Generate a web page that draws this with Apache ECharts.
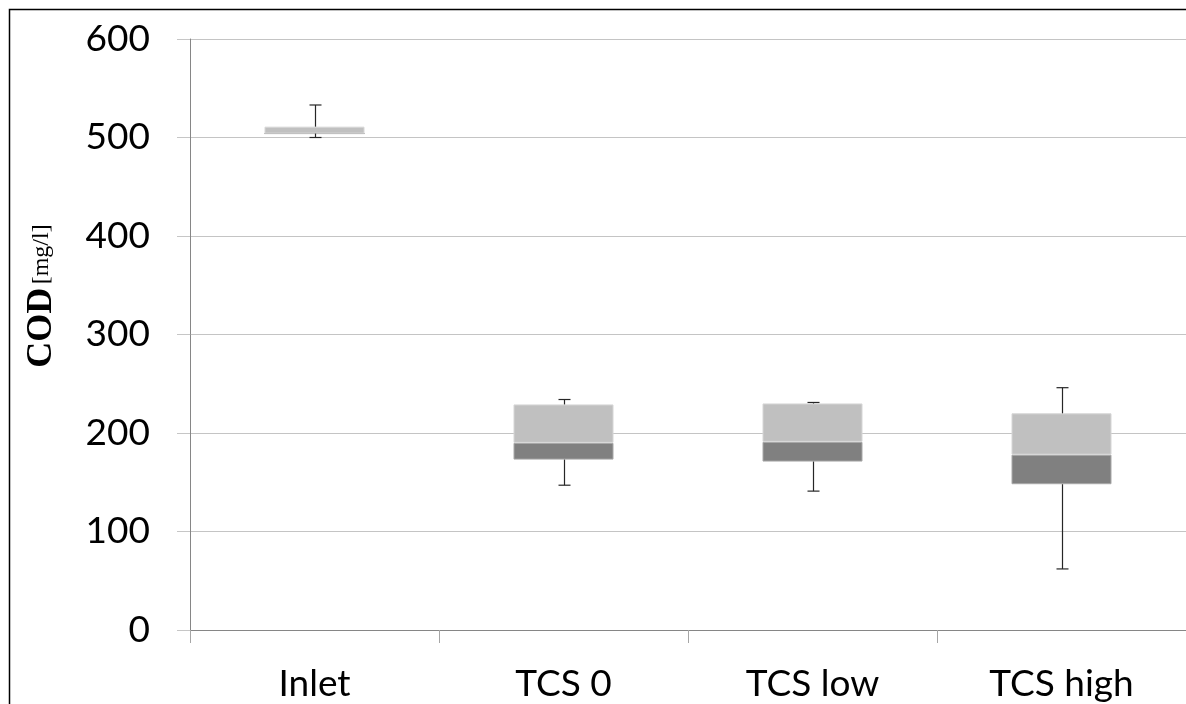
<!DOCTYPE html>
<html>
<head>
<meta charset="utf-8">
<script src="https://cdn.jsdelivr.net/npm/echarts@6/dist/echarts.min.js"></script>
<style>
  html, body { margin: 0; padding: 0; background: #fff; }
  #chart { width: 1186px; height: 704px; }
</style>
</head>
<body>
<div id="chart"></div>
<script>
// COD concentrations [mg/l] per sampling point, as box-and-whisker summaries
const categories = ['Inlet', 'TCS 0', 'TCS low', 'TCS high'];
const minVals    = [500, 147, 141, 62];
const q1Vals     = [504, 173, 171, 148];
const medianVals = [504, 190, 191, 178];
const q3Vals     = [511, 229, 230, 220];
const maxVals    = [533, 234, 231, 246];
const yTicks     = { min: 0, max: 600, step: 100 };

// Stacked segments: hidden base up to Q1, dark Q1..median, light median..Q3
const baseSeg  = q1Vals.slice();
const lowerSeg = medianVals.map((m, i) => m - q1Vals[i]);
const upperSeg = q3Vals.map((q, i) => q - medianVals[i]);
const whiskerData = categories.map((c, i) => [i, minVals[i], q1Vals[i], q3Vals[i], maxVals[i]]);

const chart = echarts.init(document.getElementById('chart'), null, { renderer: 'canvas' });

const labelFont = 'Lato, "Open Sans", sans-serif';

chart.setOption({
  animation: false,
  backgroundColor: '#ffffff',
  grid: { left: 190, top: 39, width: 1000, height: 591, containLabel: false },
  xAxis: {
    type: 'category',
    data: categories,
    boundaryGap: true,
    axisLine: { show: true, lineStyle: { color: '#868686', width: 1 } },
    axisTick: { show: true, alignWithLabel: false, length: 13, lineStyle: { color: '#a6a6a6' } },
    axisLabel: { color: '#000', fontFamily: labelFont, fontSize: 37, margin: 36 },
    splitLine: { show: false }
  },
  yAxis: {
    type: 'value',
    min: yTicks.min,
    max: yTicks.max,
    interval: yTicks.step,
    axisLine: { show: true, lineStyle: { color: '#868686', width: 1 } },
    axisTick: { show: true, length: 13, lineStyle: { color: '#c6c6c6' } },
    axisLabel: { color: '#000', fontFamily: labelFont, fontSize: 37, margin: 40 },
    splitLine: { show: true, lineStyle: { color: '#c4c4c4', width: 1 } }
  },
  series: [
    {
      type: 'bar', stack: 'box', data: baseSeg, barWidth: 100,
      itemStyle: { color: 'rgba(0,0,0,0)' }, silent: true
    },
    {
      type: 'bar', stack: 'box', data: lowerSeg, barWidth: 100,
      itemStyle: { color: '#808080', borderColor: '#a8a8a8', borderWidth: 1 }
    },
    {
      type: 'bar', stack: 'box', data: upperSeg, barWidth: 100,
      itemStyle: { color: '#c0c0c0', borderColor: '#d6d6d6', borderWidth: 1 }
    },
    {
      type: 'custom',
      data: whiskerData,
      z: 3,
      renderItem: function (params, api) {
        const idx = api.value(0);
        const pMin = api.coord([idx, api.value(1)]);
        const pQ1  = api.coord([idx, api.value(2)]);
        const pQ3  = api.coord([idx, api.value(3)]);
        const pMax = api.coord([idx, api.value(4)]);
        const x = Math.round(pMin[0]) + 0.5;
        const cap = 6;
        const st = { stroke: '#262626', lineWidth: 1.2 };
        return {
          type: 'group',
          children: [
            { type: 'line', shape: { x1: x, y1: pMax[1], x2: x, y2: pQ3[1] }, style: st },
            { type: 'line', shape: { x1: x, y1: pQ1[1], x2: x, y2: pMin[1] }, style: st },
            { type: 'line', shape: { x1: x - cap, y1: pMax[1], x2: x + cap, y2: pMax[1] }, style: st },
            { type: 'line', shape: { x1: x - cap, y1: pMin[1], x2: x + cap, y2: pMin[1] }, style: st }
          ]
        };
      }
    }
  ],
  graphic: [
    {
      type: 'rect',
      shape: { x: 9.5, y: 9.5, width: 1300, height: 800 },
      style: { fill: 'none', stroke: '#000', lineWidth: 1.5 },
      silent: true, z: 10
    },
    {
      type: 'text',
      x: 42, y: 296,
      rotation: Math.PI / 2,
      style: {
        text: '{b|COD} {r|[mg/l]}',
        align: 'center',
        verticalAlign: 'middle',
        rich: {
          b: { fontFamily: '"Liberation Serif", "DejaVu Serif", serif', fontWeight: 'bold', fontSize: 36, fill: '#000' },
          r: { fontFamily: '"Liberation Serif", "DejaVu Serif", serif', fontSize: 24, fill: '#000' }
        }
      }
    }
  ]
});
</script>
</body>
</html>
